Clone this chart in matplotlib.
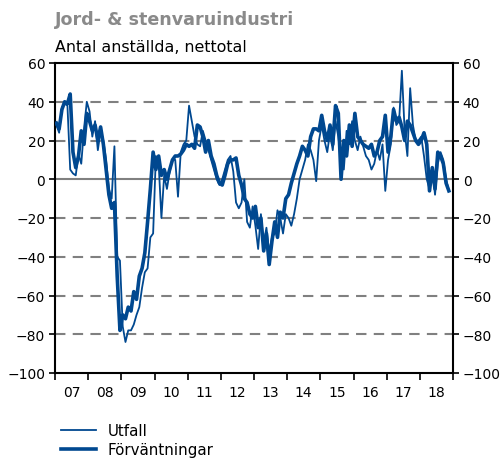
import numpy as np
import pandas as pd
import matplotlib
matplotlib.use("Agg")
import matplotlib.pyplot as plt
from matplotlib.ticker import FixedLocator, NullFormatter, FixedFormatter


# monthly net balances, Jan 2007 - Nov 2018
utfall = [
    28, 24, 37, 39, 38, 5, 3, 2, 13, 8, 26, 40,          # 2007
    35, 22, 30, 15, 25, 20, 10, -5, -10, 17, -40, -42,   # 2008
    -76, -84, -78, -78, -75, -70, -66, -56, -48, -46, -30, -28,  # 2009
    12, 8, -20, 2, -5, 4, 10, 10, -9, 14, 18, 20,        # 2010
    38, 30, 22, 18, 17, 25, 20, 15, 10, 5, 0, -3,        # 2011
    0, 5, 10, 12, 4, -12, -15, -12, 0, -22, -25, -14,    # 2012
    -24, -36, -18, -33, -25, -38, -30, -28, -16, -20, -28, -18,  # 2013
    -20, -24, -18, -10, 0, 5, 10, 18, 15, 10, -1, 20,    # 2014
    28, 20, 14, 24, 15, 30, 22, 10, 5, 25, 18, 30,       # 2015
    20, 15, 22, 17, 12, 10, 5, 8, 15, 10, 18, -6,        # 2016
    10, 18, 37, 28, 30, 56, 25, 12, 47, 28, 20, 20,      # 2017
    22, 12, 0, -5, 5, -8, 8, 14, 10, 0, -6,              # 2018
]
forvantningar = [
    29, 26, 36, 40, 39, 44, 14, 6, 12, 25, 18, 34,
    30, 25, 28, 20, 27, 18, 5, -8, -15, -12, -50, -78,
    -70, -72, -66, -68, -58, -62, -50, -46, -38, -22, -5, 14,
    5, 12, 2, 5, 0, 5, 10, 12, 12, 13, 15, 18,
    17, 18, 16, 28, 27, 22, 14, 20, 12, 8, 2, -2,
    -3, 2, 8, 10, 10, 11, 2, -3, -10, -12, -18, -20,
    -14, -25, -20, -37, -28, -44, -32, -22, -30, -17, -20, -10,
    -8, -2, 3, 8, 12, 17, 15, 12, 22, 26, 26, 25,
    33, 25, 20, 28, 18, 38, 34, 0, 20, 12, 28, 17,
    34, 22, 20, 18, 17, 16, 18, 12, 14, 20, 22, 33,
    14, 22, 36, 30, 32, 27, 20, 30, 28, 24, 20, 18,
    20, 24, 18, -6, 6, -5, 14, 12, 8, -2, -6,
]
years = list(range(2007, 2019))
year_labels = [f"{y % 100:02d}" for y in years]

BLUE = "#004890"
GRID = "#808080"

# month positions in decimal years (mid-month)
n = len(utfall)
t = 2007 + (np.arange(n) + 0.5) / 12
df = pd.DataFrame({"t": t, "Utfall": utfall, "Förväntningar": forvantningar})

fig = plt.figure(figsize=(5.03, 4.60), dpi=100)
ax = fig.add_axes([55 / 503, 1 - 374 / 460, 398 / 503, 310 / 460])

# horizontal grid: dashed lines, solid at zero
for yv in range(-80, 60, 20):
    if yv == 0:
        ax.axhline(0, color=GRID, lw=1.5, zorder=1)
    else:
        ax.axhline(yv, color=GRID, lw=1.5, ls=(0, (5, 3.5)), zorder=1)

l1, = ax.plot(df["t"], df["Utfall"], color=BLUE, lw=1.3, zorder=3)
l2, = ax.plot(df["t"], df["Förväntningar"], color=BLUE, lw=2.6, zorder=3)

ax.set_xlim(2007, 2019)
ax.set_ylim(-100, 60)

# y ticks on both sides
ax.set_yticks(range(-100, 61, 20))
ax.tick_params(axis="y", which="both", direction="out", length=4, width=1.2,
               labelsize=10, left=True, right=True, labelleft=True, labelright=True, pad=3)

# year boundaries as ticks, labels centred between them
ax.xaxis.set_major_locator(FixedLocator(years + [2019]))
ax.xaxis.set_major_formatter(NullFormatter())
ax.xaxis.set_minor_locator(FixedLocator([y + 0.5 for y in years]))
ax.xaxis.set_minor_formatter(FixedFormatter(year_labels))
ax.tick_params(axis="x", which="major", direction="out", length=5, width=1.2)
ax.tick_params(axis="x", which="minor", length=0, labelsize=10, pad=9)

for s in ax.spines.values():
    s.set_linewidth(1.5)
    s.set_color("black")

fig.text(55 / 503, 1 - 20 / 460, "Jord- & stenvaruindustri", fontsize=12.6,
         fontweight="bold", color="#8a8a8a", va="center", ha="left")
fig.text(55 / 503, 1 - 47 / 460, "Antal anställda, nettotal", fontsize=11.4,
         color="black", va="center", ha="left")

fig.legend([l1, l2], ["Utfall", "Förväntningar"], loc="upper left",
           bbox_to_anchor=(61 / 503, 1 - 424 / 460), frameon=False, fontsize=10.8,
           handlelength=2.3, handletextpad=0.8, labelspacing=0.3, borderaxespad=0,
           borderpad=0)

fig.savefig("out.png", dpi=100)
